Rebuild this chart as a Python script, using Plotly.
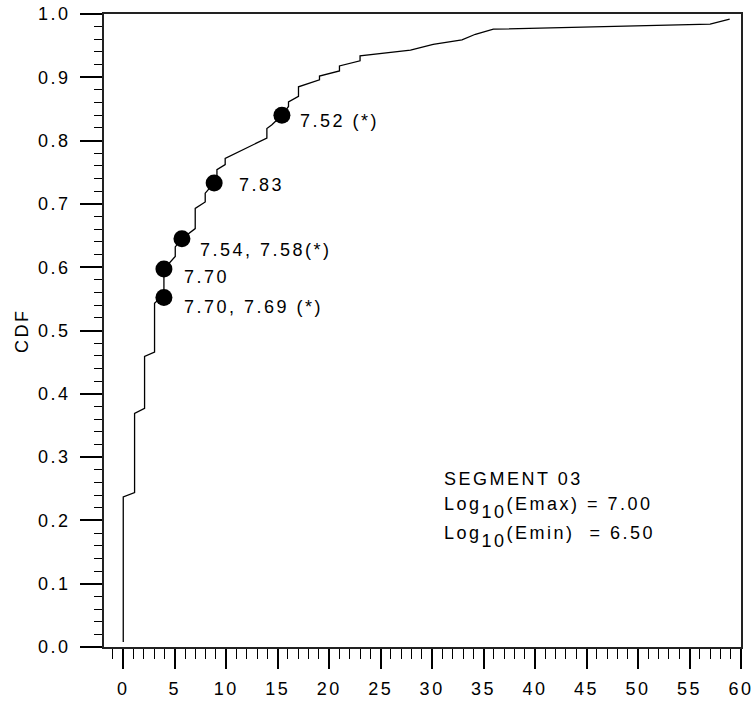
import plotly.graph_objects as go

# CDF step curve
curve_x = [0.0, 0.0, 1.1, 1.1, 2.07, 2.07, 3.04, 3.04, 3.3, 3.95, 3.95, 5.05, 5.05, 5.70,
           6.99, 6.99, 7.96, 7.96, 8.83, 9.10, 9.10, 9.90, 9.90, 13.95, 13.95, 14.44, 15.41,
           16.05, 16.05, 17.02, 17.02, 19.06, 19.06, 21.0, 21.0, 23.0, 23.0, 27.9, 30.1,
           32.9, 34.2, 35.95, 57.0, 58.9]
curve_y = [0.008, 0.237, 0.244, 0.369, 0.377, 0.459, 0.466, 0.543, 0.547, 0.552, 0.597, 0.617,
           0.632, 0.645, 0.661, 0.693, 0.703, 0.717, 0.733, 0.740, 0.754, 0.762, 0.772, 0.804,
           0.819, 0.825, 0.840, 0.854, 0.861, 0.870, 0.885, 0.896, 0.902, 0.910, 0.918, 0.926,
           0.934, 0.943, 0.952, 0.959, 0.968, 0.976, 0.984, 0.992]

# Highlighted events
dot_x = [3.95, 3.95, 5.70, 8.83, 15.41]
dot_y = [0.552, 0.597, 0.645, 0.733, 0.840]
dot_labels = ["7.70, 7.69 (*)", "7.70", "7.54, 7.58(*)", "7.83", "7.52 (*)"]
label_x = [5.67, 5.67, 7.29, 11.03, 17.0]
label_y = [0.5376, 0.585, 0.627, 0.730, 0.8315]

SUB10 = '<span style="baseline-shift:-8px">10</span>'
info_lines = ["SEGMENT 03", "Log" + SUB10 + "(Emax) = 7.00", "Log" + SUB10 + "(Emin)  = 6.50"]
info_x = 31.1
info_y = [0.266, 0.2195, 0.1737]

FONT = "Liberation Sans, Arial, sans-serif"

fig = go.Figure()
fig.add_trace(go.Scatter(x=curve_x, y=curve_y, mode="lines",
                         line=dict(color="black", width=1.3), showlegend=False))
fig.add_trace(go.Scatter(x=dot_x, y=dot_y, mode="markers",
                         marker=dict(color="black", size=17), showlegend=False))

for t, x, y in zip(dot_labels, label_x, label_y):
    fig.add_annotation(x=x, y=y, text=t, showarrow=False, xanchor="left", yanchor="middle",
                       font=dict(family=FONT, size=18, color="black"))

for t, y in zip(info_lines, info_y):
    fig.add_annotation(x=info_x, y=y, text=t, showarrow=False, xanchor="left", yanchor="middle",
                       borderpad=0, font=dict(family=FONT, size=18, color="black"))

fig.add_annotation(xref="paper", yref="paper", x=-0.1295, y=0.5, text="CDF", textangle=-90,
                   showarrow=False, xanchor="center", yanchor="middle",
                   font=dict(family=FONT, size=18, color="black"))

fig.update_xaxes(range=[-1.87, 60], tick0=0, dtick=5, ticks="outside", ticklen=20, tickwidth=1.5,
                 tickcolor="black", showline=True, linecolor="#222", linewidth=1.5, mirror=True,
                 showgrid=False, zeroline=False, automargin=False, ticklabelstandoff=5,
                 ticklabeloverflow="allow",
                 tickfont=dict(family=FONT, size=18, color="black"),
                 minor=dict(tick0=0, dtick=1, ticks="outside", ticklen=10, tickwidth=1.2,
                            tickcolor="black", showgrid=False))
fig.update_yaxes(range=[0, 1], tick0=0, dtick=0.1, tickformat=".1f", ticks="outside", ticklen=22,
                 tickwidth=1.5, tickcolor="black", showline=True, linecolor="#222", linewidth=1.5,
                 mirror=True, showgrid=False, zeroline=False, automargin=False,
                 ticklabelstandoff=6, ticklabeloverflow="allow",
                 tickfont=dict(family=FONT, size=18, color="black"),
                 minor=dict(tick0=0, dtick=0.02, ticks="outside", ticklen=8, tickwidth=1.2,
                            tickcolor="black", showgrid=False))

fig.update_layout(width=752, height=705, margin=dict(l=104, r=11, t=14, b=58),
                  plot_bgcolor="white", paper_bgcolor="white", showlegend=False)

# widen the letter tracking of all texts like in the original; re-set the font family
# (same rendered font) so plotly re-measures the texts with the tracking applied
tracking = """
var st = document.createElement('style');
st.innerHTML = 'svg text { letter-spacing: 2.5px; }';
document.head.appendChild(st);
var gd = document.getElementById('{plot_id}');
var fam = 'Liberation Sans, Arial';
var upd = {'xaxis.tickfont.family': fam, 'yaxis.tickfont.family': fam};
for (var i = 0; i < gd.layout.annotations.length; i++) {
  upd['annotations[' + i + '].font.family'] = fam;
}
Plotly.relayout(gd, upd);
"""

fig.write_html("out.html", post_script=tracking)
